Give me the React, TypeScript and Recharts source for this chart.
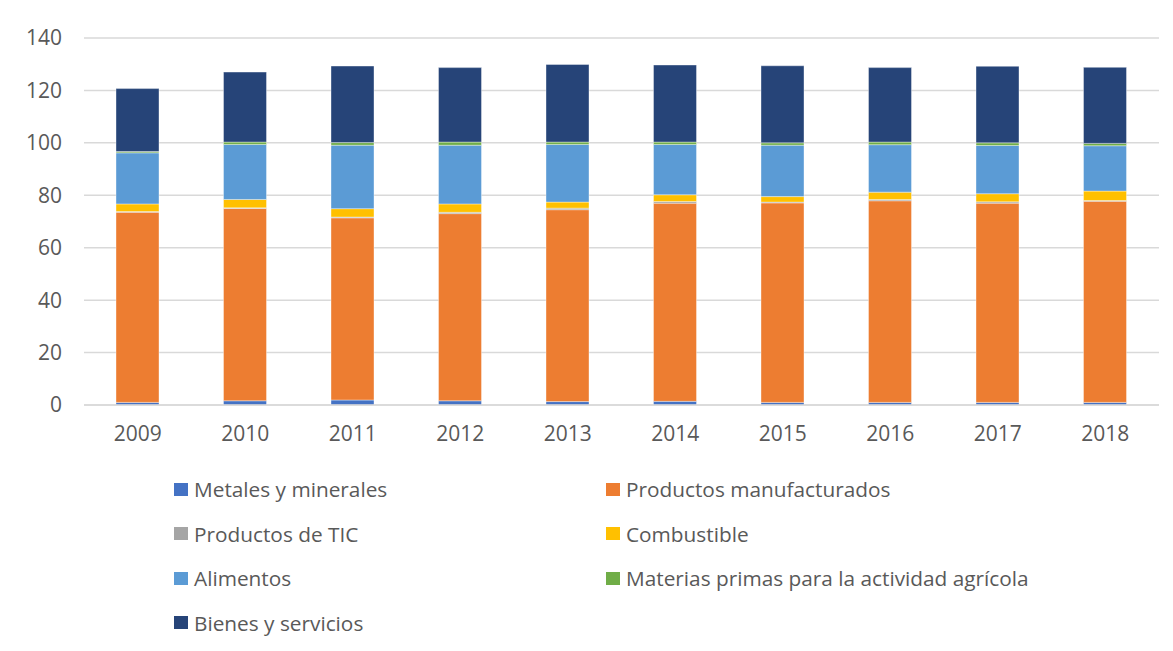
import { BarChart, Bar, XAxis, YAxis, CartesianGrid, Legend } from 'recharts';

const years = ['2009', '2010', '2011', '2012', '2013', '2014', '2015', '2016', '2017', '2018'];

const metales = [1.0, 1.6, 1.9, 1.6, 1.3, 1.4, 1.0, 1.0, 1.0, 1.0];
const manufacturados = [72.5, 73.4, 69.5, 71.4, 73.2, 75.6, 76.1, 76.9, 76.0, 76.7];
const tic = [0.3, 0.2, 0.3, 0.5, 0.6, 0.6, 0.3, 0.5, 0.5, 0.3];
const combustible = [2.9, 3.2, 3.2, 3.2, 2.3, 2.6, 2.1, 2.8, 3.1, 3.6];
const alimentos = [19.5, 21.0, 24.2, 22.4, 22.0, 19.2, 19.6, 18.1, 18.4, 17.3];
const materias = [0.5, 0.9, 1.0, 1.2, 0.9, 0.9, 0.9, 1.0, 1.0, 0.9];
const bienes = [24.0, 26.7, 29.2, 28.4, 29.6, 29.4, 29.4, 28.4, 29.2, 29.0];

const yTicks = [0, 20, 40, 60, 80, 100, 120, 140];

const SERIES = [
  { key: 'metales', name: 'Metales y minerales', color: '#4472C4', values: metales },
  { key: 'manufacturados', name: 'Productos manufacturados', color: '#ED7D31', values: manufacturados },
  { key: 'tic', name: 'Productos de TIC', color: '#A5A5A5', values: tic },
  { key: 'combustible', name: 'Combustible', color: '#FFC000', values: combustible },
  { key: 'alimentos', name: 'Alimentos', color: '#5B9BD5', values: alimentos },
  { key: 'materias', name: 'Materias primas para la actividad agrícola', color: '#70AD47', values: materias },
  { key: 'bienes', name: 'Bienes y servicios', color: '#264478', values: bienes },
];

const data = years.map((year, i) => {
  const row: Record<string, string | number> = { year };
  SERIES.forEach((s) => {
    row[s.key] = s.values[i];
  });
  return row;
});

const FONT = '"Open Sans", "Liberation Sans", sans-serif';
const TEXT = '#595959';

// legend in two columns, same order as Excel
function renderLegend() {
  return (
    <div
      style={{
        display: 'grid',
        gridTemplateColumns: '432px 432px',
        gridAutoRows: '44.5px',
        paddingLeft: 166,
        fontFamily: FONT,
        fontSize: 20.8,
        color: TEXT,
      }}
    >
      {SERIES.map((s) => (
        <div key={s.key} style={{ display: 'flex', alignItems: 'center' }}>
          <span style={{ width: 14, height: 13, background: s.color, marginRight: 6, flexShrink: 0 }} />
          <span>{s.name}</span>
        </div>
      ))}
    </div>
  );
}

export default function App() {
  return (
    <div
      style={{
        width: 1165,
        height: 643,
        marginLeft: -1,
        marginTop: -1,
        borderTop: '1px solid #d9d9d9',
        borderLeft: '1px solid #d9d9d9',
        background: '#fff',
      }}
    >
      <BarChart
        width={1165}
        height={643}
        data={data}
        margin={{ top: 30, right: 14, left: 0, bottom: 6 }}
        barSize={43}
      >
        <CartesianGrid vertical={false} stroke="#d9d9d9" strokeWidth={1.5} />
        <XAxis
          dataKey="year"
          height={62}
          tickLine={false}
          tickSize={0}
          tickMargin={21}
          axisLine={{ stroke: '#d9d9d9', strokeWidth: 1.5 }}
          tick={{ fill: TEXT, fontSize: 21, fontFamily: FONT }}
        />
        <YAxis
          width={76}
          domain={[0, 140]}
          ticks={yTicks}
          axisLine={false}
          tickLine={false}
          tickSize={0}
          tickMargin={22}
          tick={{ fill: TEXT, fontSize: 21, fontFamily: FONT }}
        />
        <Legend
          verticalAlign="bottom"
          content={renderLegend}
          wrapperStyle={{ left: 0, width: 1165, height: 178 }}
        />
        {SERIES.map((s) => (
          <Bar
            key={s.key}
            dataKey={s.key}
            name={s.name}
            stackId="a"
            fill={s.color}
            stroke="#ffffff"
            strokeOpacity={0.5}
            strokeWidth={0.75}
            isAnimationActive={false}
          />
        ))}
      </BarChart>
    </div>
  );
}
